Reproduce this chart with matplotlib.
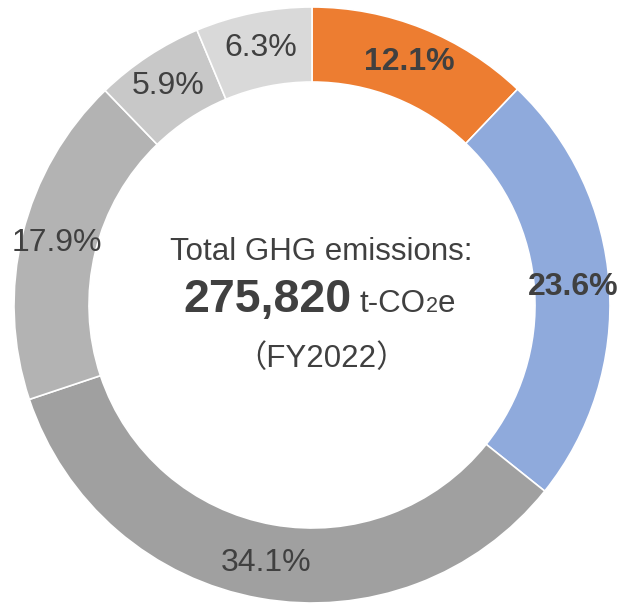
import matplotlib.pyplot as plt

# share of GHG emissions (FY2022), clockwise from 12 o'clock
shares = [12.1, 23.6, 34.1, 17.9, 5.9, 6.3]
colors = ["#ED7D31", "#8FAADC", "#A0A0A0", "#B3B3B3", "#C8C8C8", "#D9D9D9"]
bold = [True, True, False, False, False, False]
total = "275,820"
year = "FY2022"

plt.rcParams['font.family'] = ['Liberation Sans', 'Noto Sans CJK JP', 'DejaVu Sans']
dark = '#404040'

fig = plt.figure(figsize=(6.2, 6.04), dpi=100)
ax = fig.add_axes([0, 0, 1, 1])

labels = iter([f"{v}%" for v in shares])
wedges, texts, autotexts = ax.pie(
    shares, colors=colors, startangle=90, counterclock=False, radius=298,
    center=(0, 0), autopct=lambda p: next(labels), pctdistance=0.88,
    wedgeprops=dict(width=75, edgecolor='white', linewidth=1.2),
    textprops=dict(fontsize=23, color=dark))
for t, b in zip(autotexts, bold):
    if b:
        t.set_fontweight('bold')

# data units = pixels, origin at ring centre
ax.set_xlim(-312, 620 - 312)
ax.set_ylim(-(604 - 305), 305)
ax.set_aspect('equal')
ax.axis('off')

ax.text(9, 53, "Total GHG emissions:", ha='center', va='center', fontsize=22.5, color=dark)

# centre line: big bold number, then t-CO2e with small 2
base = 305 - 312
renderer = fig.canvas.get_renderer()
x = -129
for s, size, weight in [(total, 33.5, 'bold'), (" ", 22, 'normal'),
                        ("t-CO", 22.5, 'normal'), ("2", 15.5, 'normal'),
                        ("e", 22.5, 'normal')]:
    t = ax.text(x, base, s, ha='left', va='baseline', fontsize=size,
                fontweight=weight, color=dark)
    bb = t.get_window_extent(renderer)
    x += bb.width

ax.text(9, 305 - 367, "（" + year + "）", ha='center', va='baseline',
        fontsize=22.5, color=dark)

fig.savefig("out.png", dpi=100)
